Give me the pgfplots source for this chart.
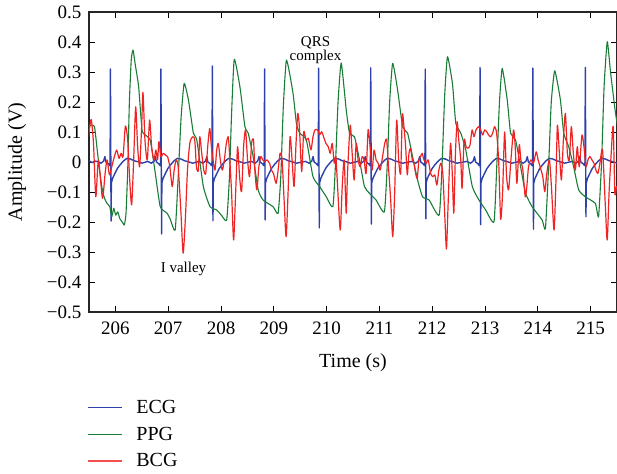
\documentclass[border=0pt]{standalone}
\usepackage{fontspec}
\setmainfont{Liberation Serif}
\usepackage{pgfplots}
\pgfplotsset{compat=1.18}
\definecolor{ecgblue}{RGB}{45,65,170}
\definecolor{ppggreen}{RGB}{25,125,55}
\definecolor{bcgred}{RGB}{240,35,35}
\begin{document}
\begin{tikzpicture}
\path[use as bounding box] (-89pt,-161pt) rectangle (528pt,312pt);
\begin{axis}[
  at={(0,0)}, anchor=south west,
  width=528pt, height=300pt, scale only axis,
  xmin=205.5, xmax=215.5, ymin=-0.5, ymax=0.5,
  xtick={206,207,208,209,210,211,212,213,214,215},
  ytick={-0.5,-0.4,-0.3,-0.2,-0.1,0,0.1,0.2,0.3,0.4,0.5},
  yticklabels={−0.5,−0.4,−0.3,−0.2,−0.1,0,0.1,0.2,0.3,0.4,0.5},
  /pgf/number format/assume math mode=true,
  tick align=inside, major tick length=6pt,
  tick style={black, line width=0.9pt},
  axis line style={line width=1.2pt, black!85},
  ticklabel style={font=\fontsize{19}{22}\selectfont},
  xticklabel style={yshift=-6pt},
  yticklabel style={xshift=-4pt},
  label style={font=\fontsize{20}{24}\selectfont},
  xlabel style={yshift=-12pt},
  ylabel style={yshift=14pt},
  xlabel={Time (s)}, ylabel={Amplitude (V)},
  legend cell align=left,
  legend style={at={(rel axis cs:0,0)}, anchor=north west, yshift=-86pt, xshift=-2pt,
    draw=none, fill=none, font=\fontsize{20}{24}\selectfont, row sep=8pt, inner sep=0pt,
    /tikz/every odd column/.append style={column sep=12pt}},
  legend image code/.code={\draw[#1] (0pt,0pt) -- (34pt,0pt);},
]
\addlegendimage{ecgblue, line width=1.2pt}
\addlegendentry{ECG}
\addlegendimage{ppggreen, line width=1.2pt}
\addlegendentry{PPG}
\addlegendimage{bcgred!80, line width=1.2pt}
\addlegendentry{BCG}
\addplot[ecgblue, line width=1.4pt, line join=round, forget plot] coordinates {
(205.500,0.004) (205.560,-0.002) (205.610,0.003)
(205.656,0.002) (205.726,-0.004) (205.776,0.003) (205.801,0.018) (205.821,0.0) (205.866,-0.006) (205.891,-0.012) (205.900,0.0) (205.906,0.310) (205.918,-0.197) (205.924,-0.07) (205.946,-0.055) (205.986,-0.04) (206.036,-0.022) (206.086,-0.01) (206.156,0.004) (206.216,0.012) (206.286,0.01) (206.356,0.004) (206.426,0.001) (206.506,-0.004)
(206.612,0.002) (206.682,-0.004) (206.732,0.003) (206.757,0.018) (206.777,0.0) (206.822,-0.006) (206.847,-0.012) (206.856,0.0) (206.862,0.310) (206.874,-0.240) (206.880,-0.07) (206.902,-0.055) (206.942,-0.04) (206.992,-0.022) (207.042,-0.01) (207.112,0.004) (207.172,0.012) (207.242,0.01) (207.312,0.004) (207.382,0.001) (207.462,-0.004)
(207.586,0.002) (207.656,-0.004) (207.706,0.003) (207.731,0.018) (207.751,0.0) (207.796,-0.006) (207.821,-0.012) (207.830,0.0) (207.836,0.320) (207.848,-0.196) (207.854,-0.07) (207.876,-0.055) (207.916,-0.04) (207.966,-0.022) (208.016,-0.01) (208.086,0.004) (208.146,0.012) (208.216,0.01) (208.286,0.004) (208.356,0.001) (208.436,-0.004)
(208.575,0.002) (208.645,-0.004) (208.695,0.003) (208.720,0.018) (208.740,0.0) (208.785,-0.006) (208.810,-0.012) (208.819,0.0) (208.825,0.310) (208.837,-0.193) (208.843,-0.07) (208.865,-0.055) (208.905,-0.04) (208.955,-0.022) (209.005,-0.01) (209.075,0.004) (209.135,0.012) (209.205,0.01) (209.275,0.004) (209.345,0.001) (209.425,-0.004)
(209.599,0.002) (209.669,-0.004) (209.719,0.003) (209.744,0.018) (209.764,0.0) (209.809,-0.006) (209.834,-0.012) (209.843,0.0) (209.849,0.313) (209.861,-0.220) (209.867,-0.07) (209.889,-0.055) (209.929,-0.04) (209.979,-0.022) (210.029,-0.01) (210.099,0.004) (210.159,0.012) (210.229,0.01) (210.299,0.004) (210.369,0.001) (210.449,-0.004)
(210.586,0.002) (210.656,-0.004) (210.706,0.003) (210.731,0.018) (210.751,0.0) (210.796,-0.006) (210.821,-0.012) (210.830,0.0) (210.836,0.314) (210.848,-0.207) (210.854,-0.07) (210.876,-0.055) (210.916,-0.04) (210.966,-0.022) (211.016,-0.01) (211.086,0.004) (211.146,0.012) (211.216,0.01) (211.286,0.004) (211.356,0.001) (211.436,-0.004)
(211.618,0.002) (211.688,-0.004) (211.738,0.003) (211.763,0.018) (211.783,0.0) (211.828,-0.006) (211.853,-0.012) (211.862,0.0) (211.868,0.310) (211.880,-0.189) (211.886,-0.07) (211.908,-0.055) (211.948,-0.04) (211.998,-0.022) (212.048,-0.01) (212.118,0.004) (212.178,0.012) (212.248,0.01) (212.318,0.004) (212.388,0.001) (212.468,-0.004)
(212.656,0.002) (212.726,-0.004) (212.776,0.003) (212.801,0.018) (212.821,0.0) (212.866,-0.006) (212.891,-0.012) (212.900,0.0) (212.906,0.315) (212.918,-0.209) (212.924,-0.07) (212.946,-0.055) (212.986,-0.04) (213.036,-0.022) (213.086,-0.01) (213.156,0.004) (213.216,0.012) (213.286,0.01) (213.356,0.004) (213.426,0.001) (213.506,-0.004)
(213.656,0.002) (213.726,-0.004) (213.776,0.003) (213.801,0.018) (213.821,0.0) (213.866,-0.006) (213.891,-0.012) (213.900,0.0) (213.906,0.313) (213.918,-0.224) (213.924,-0.07) (213.946,-0.055) (213.986,-0.04) (214.036,-0.022) (214.086,-0.01) (214.156,0.004) (214.216,0.012) (214.286,0.01) (214.356,0.004) (214.426,0.001) (214.506,-0.004)
(214.650,0.002) (214.720,-0.004) (214.770,0.003) (214.795,0.018) (214.815,0.0) (214.860,-0.006) (214.885,-0.012) (214.894,0.0) (214.900,0.315) (214.912,-0.182) (214.918,-0.07) (214.940,-0.055) (214.980,-0.04) (215.030,-0.022) (215.080,-0.01) (215.150,0.004) (215.210,0.012) (215.280,0.01) (215.350,0.004) (215.420,0.001) (215.500,-0.004)
};
\addplot[ppggreen, line width=1.1pt, smooth, tension=0.3, line join=round, forget plot] coordinates {
(205.491,0.118) (205.554,0.123) (205.604,0.118) (205.642,0.062) (205.692,-0.016) (205.742,-0.082) (205.793,-0.121) (205.843,-0.138) (205.893,-0.149) (205.931,-0.182) (205.969,-0.154) (206.006,-0.177) (206.044,-0.166) (206.082,-0.188) (206.145,-0.204) (206.170,-0.210) (206.201,-0.171) (206.233,-0.027) (206.264,0.196) (206.300,0.340) (206.334,0.373) (206.380,0.320) (206.440,0.251) (206.504,0.107) (206.566,0.090) (206.660,0.073) (206.755,-0.037) (206.849,-0.149) (206.975,-0.170) (207.038,-0.190) (207.132,-0.227) (207.189,-0.050) (207.245,0.150) (207.302,0.262) (207.383,0.207) (207.477,0.096) (207.542,0.073) (207.666,-0.082) (207.792,-0.149) (207.919,-0.160) (208.019,-0.180) (208.108,-0.193) (208.160,-0.050) (208.198,0.150) (208.251,0.342) (208.358,0.251) (208.453,0.118) (208.515,0.096) (208.609,0.018) (208.704,-0.093) (208.798,-0.127) (208.987,-0.149) (209.081,-0.171) (209.132,-0.050) (209.179,0.180) (209.240,0.340) (209.364,0.229) (209.428,0.129) (209.491,0.096) (209.617,0.073) (209.742,-0.049) (209.868,-0.082) (209.994,-0.116) (210.119,-0.149) (210.170,0.000) (210.217,0.200) (210.277,0.330) (210.372,0.173) (210.434,0.096) (210.528,0.084) (210.623,0.007) (210.717,-0.082) (210.811,-0.104) (210.938,-0.127) (211.094,-0.166) (211.151,0.000) (211.194,0.200) (211.251,0.329) (211.345,0.240) (211.440,0.118) (211.534,0.096) (211.628,0.018) (211.723,-0.060) (211.817,-0.116) (211.943,-0.127) (212.132,-0.177) (212.189,0.000) (212.236,0.220) (212.289,0.351) (212.383,0.262) (212.447,0.129) (212.542,0.096) (212.636,0.040) (212.760,-0.082) (212.887,-0.127) (213.013,-0.160) (213.170,-0.199) (213.226,0.000) (213.274,0.200) (213.326,0.312) (213.421,0.207) (213.485,0.096) (213.579,0.073) (213.674,-0.016) (213.768,-0.104) (213.892,-0.149) (214.081,-0.193) (214.145,-0.221) (214.208,0.000) (214.255,0.200) (214.321,0.304) (214.428,0.207) (214.491,0.096) (214.585,0.051) (214.679,-0.016) (214.774,-0.093) (214.900,-0.116) (215.089,-0.138) (215.151,-0.182) (215.208,0.000) (215.255,0.250) (215.315,0.401) (215.377,0.300) (215.466,0.170) (215.530,0.100)
};
\addplot[bcgred, line width=1.2pt, smooth, tension=0.4, line join=round, forget plot] coordinates {
(205.491,0.084) (205.541,0.142) (205.585,0.062) (205.629,-0.116) (205.679,0.007) (205.755,-0.121) (205.805,-0.038) (205.843,0.007) (205.887,-0.043) (205.931,-0.016) (205.981,0.018) (206.025,0.040) (206.069,0.012) (206.107,0.029) (206.145,0.018) (206.189,0.120) (206.233,0.073) (206.271,-0.060) (206.308,-0.143) (206.346,0.007) (206.384,0.184) (206.421,0.051) (206.459,-0.016) (206.497,0.118) (206.522,0.232) (206.560,0.073) (206.604,0.007) (206.648,0.140) (206.686,0.051) (206.730,0.007) (206.767,0.040) (206.799,0.007) (206.824,0.068) (206.862,0.018) (206.906,0.029) (206.950,0.023) (206.988,0.018) (207.031,-0.016) (207.076,-0.082) (207.113,-0.027) (207.151,0.007) (207.189,-0.016) (207.239,-0.160) (207.283,-0.304) (207.327,-0.182) (207.365,-0.027) (207.409,0.062) (207.459,0.084)
(207.503,0.073) (207.535,-0.016) (207.572,-0.027) (207.597,0.084) (207.635,0.029) (207.673,-0.027) (207.711,-0.038) (207.748,0.051) (207.786,0.112) (207.818,0.051) (207.849,0.007) (207.887,-0.027) (207.918,0.040) (207.950,0.062) (207.987,0.007) (208.025,-0.027) (208.063,0.007) (208.101,0.062) (208.138,0.084) (208.164,0.018) (208.201,-0.104) (208.239,-0.260) (208.277,-0.104) (208.314,0.051) (208.352,-0.049) (208.390,-0.099) (208.428,0.051) (208.465,0.107) (208.503,0.007) (208.541,-0.049) (208.579,0.062) (208.616,0.073) (208.641,-0.027) (208.679,-0.093) (208.717,-0.016) (208.755,0.018) (208.792,0.007) (208.830,0.001) (208.868,0.007) (208.918,-0.004) (208.956,-0.027) (208.994,-0.038) (209.044,-0.071) (209.082,-0.027) (209.119,0.029) (209.157,0.007) (209.195,-0.127) (209.233,-0.249) (209.270,-0.104) (209.308,0.084) (209.346,0.007) (209.384,-0.082) (209.421,0.062)
(209.453,0.162) (209.484,0.118) (209.528,-0.032) (209.566,0.101) (209.610,0.073) (209.654,0.079) (209.704,0.040) (209.742,0.084) (209.780,0.107) (209.830,0.107) (209.868,0.090) (209.906,0.101) (209.943,0.084) (209.987,0.062) (210.031,0.051) (210.069,0.029) (210.107,0.062) (210.145,-0.004) (210.176,0.018) (210.208,-0.082) (210.258,-0.227) (210.296,-0.082) (210.333,0.007) (210.371,-0.171) (210.396,-0.038) (210.447,0.123) (210.484,0.029) (210.522,-0.060) (210.560,0.062) (210.597,0.007) (210.635,-0.016) (210.673,0.018) (210.711,0.007) (210.748,-0.038) (210.786,0.107) (210.824,0.051) (210.862,-0.027) (210.899,0.040) (210.937,0.007) (210.975,-0.004) (211.013,-0.027) (211.050,0.007) (211.101,0.062) (211.138,0.073) (211.176,-0.027) (211.214,-0.127) (211.252,-0.249) (211.289,-0.104) (211.327,0.140) (211.365,0.007) (211.403,-0.038)
(211.434,0.157) (211.465,0.118) (211.497,0.051) (211.528,-0.043) (211.560,0.029) (211.591,0.046) (211.623,0.007) (211.654,-0.004) (211.686,-0.038) (211.717,-0.054) (211.748,0.007) (211.780,0.018) (211.811,0.029) (211.843,0.007) (211.887,-0.004) (211.925,0.007) (211.969,-0.038) (212.013,-0.049) (212.050,-0.043) (212.088,-0.077) (212.126,-0.027) (212.164,-0.004) (212.201,-0.038) (212.239,-0.182) (212.270,-0.290) (212.302,-0.138) (212.346,0.062) (212.377,-0.027) (212.409,-0.171) (212.440,0.029) (212.472,0.134) (212.503,0.073) (212.541,0.007) (212.566,-0.088) (212.604,0.073) (212.642,0.051) (212.679,0.046) (212.717,0.057) (212.755,0.107) (212.792,0.084) (212.830,0.107) (212.881,0.118) (212.918,0.107) (212.956,0.090) (212.994,0.107) (213.031,0.101) (213.069,0.090) (213.107,0.084) (213.145,0.096) (213.182,0.118) (213.220,0.096) (213.258,0.007) (213.296,-0.190) (213.333,-0.104) (213.371,0.100) (213.409,-0.049)
(213.447,-0.093) (213.491,0.007) (213.541,0.107) (213.572,0.051) (213.604,-0.071) (213.648,0.057) (213.679,0.007) (213.717,-0.027) (213.761,-0.116) (213.792,-0.082) (213.824,-0.016) (213.868,0.007) (213.918,-0.004) (213.969,0.034) (214.006,0.007) (214.044,-0.016) (214.094,-0.049) (214.132,-0.099) (214.170,-0.038) (214.220,0.007) (214.258,-0.082) (214.308,-0.227) (214.346,-0.049) (214.371,0.123) (214.409,0.029) (214.447,-0.060) (214.484,0.073) (214.522,0.162) (214.560,0.029) (214.597,0.007) (214.635,0.118) (214.673,0.029) (214.711,-0.027) (214.748,0.051) (214.786,-0.016) (214.836,0.090) (214.874,0.051) (214.912,-0.016) (214.950,0.007) (214.987,0.018) (215.025,0.007) (215.063,-0.004) (215.101,-0.027) (215.138,-0.038) (215.176,-0.004) (215.226,0.040) (215.277,-0.138) (215.314,-0.260) (215.352,-0.093) (215.390,0.029) (215.428,0.118) (215.459,-0.104) (215.490,-0.080)
};
\node[align=center, font=\fontsize{15}{14}\selectfont, inner sep=0pt] at (axis cs:209.79,0.373) {QRS\\complex};
\node[font=\fontsize{15}{14}\selectfont, inner sep=0pt] at (axis cs:207.29,-0.357) {I valley};
\end{axis}
\end{tikzpicture}
\end{document}
